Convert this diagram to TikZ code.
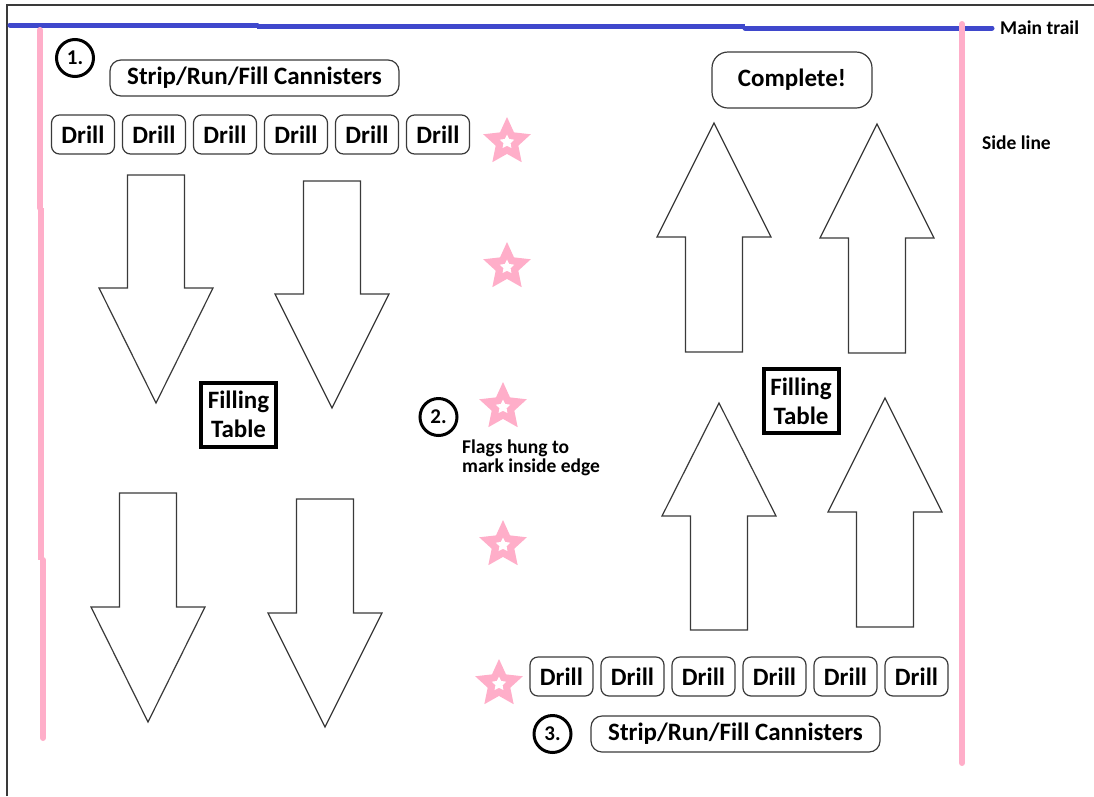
\documentclass[tikz,border=0pt]{standalone}
\usepackage{fontspec}
\setmainfont{Carlito}
\usepackage{xcolor}
\usetikzlibrary{shapes.geometric}
\definecolor{trailblue}{HTML}{3F48CC}
\definecolor{rose}{HTML}{FFAEC9}
\definecolor{edgegray}{HTML}{3A3A3A}

\begin{document}
\begin{tikzpicture}[x=1pt,y=-1pt,
  lbl/.style={font=\fontsize{25}{29}\selectfont\bfseries},
  small/.style={font=\fontsize{19.5}{18.5}\selectfont\bfseries},
  drillbox/.style={lbl,draw=edgegray,line width=1.2pt,rounded corners=8pt,minimum width=63pt,minimum height=39pt,inner sep=0pt},
  taskbox/.style={lbl,draw=edgegray,line width=1.2pt,rounded corners=11pt,minimum width=289pt,minimum height=36pt,inner sep=0pt},
  tablebox/.style={lbl,draw=black,line width=4pt,align=center,minimum width=75pt,minimum height=64pt,inner sep=0pt},
  numcircle/.style={circle,draw=black,line width=3pt,minimum size=37pt,inner sep=0pt,font=\fontsize{21}{21}\selectfont\bfseries},
  flag/.style={star,star points=5,star point ratio=2.1,fill=rose,minimum size=50pt,inner sep=0pt},
  flaghole/.style={star,star points=5,star point ratio=2,fill=white,minimum size=15pt,inner sep=0pt},
  flow/.style={draw=edgegray,line width=1.2pt,fill=white}]
  \useasboundingbox (0,0) rectangle (1094,796);
  % window edge
  \draw[edgegray,line width=1.2pt] (7,796)--(7,5)--(1094,5);
  % main trail and side lines
  \node[small,anchor=west,inner sep=0pt] (trail) at (1000,28) {Main trail};
  \coordinate (trailend) at ([xshift=-8pt]trail.west);
  \draw[trailblue,line width=5pt,line cap=round] (10,25)--(257,25);
  \draw[trailblue,line width=5pt] (257,26.5)--(745,26.5);
  \draw[trailblue,line width=5pt,line cap=round] (745,28)--(trailend);
  \draw[rose,line width=6pt,line cap=round] (40,30)--(40,208);
  \draw[rose,line width=6pt] (41,208)--(41,560);
  \draw[rose,line width=6pt,line cap=round] (43,560)--(43,738);
  \draw[rose,line width=6pt,line cap=round] (962,24)--(962,763);
  \node[small,anchor=west,inner sep=0pt] (side) at (982,143) {Side line};
  % flow arrows: centre x / tail / shoulder / tip
  \foreach \cx/\tl/\sh/\tp in {156/175/288/403, 332/181/294/408, 148/493/607/722, 325/499/613/727,
                               714/352/237/123, 877/353/238/124, 719/630/516/403, 885/627/512/398}
    \draw[flow] (\cx-28.5,\tl)--(\cx-28.5,\sh)--(\cx-57,\sh)--(\cx,\tp)--(\cx+57,\sh)--(\cx+28.5,\sh)--(\cx+28.5,\tl)--cycle;
  % step 1
  \node[numcircle] (num1) at (75,58) {1.};
  \node[taskbox] (task1) at (254.5,78) {Strip/Run/Fill Cannisters};
  \foreach \i in {0,...,5}
    \node[drillbox] (topdrill\i) at (83+71*\i,134.5) {Drill};
  \node[tablebox] (table1) at (238.5,414.5) {Filling\\Table};
  % step 2: flags
  \foreach \i/\fx/\fy in {1/507/142, 2/507/267, 3/503/407, 4/503/545, 5/499/684} {
    \node[flag] (flag\i) at (\fx,\fy) {};
    \node[flaghole] at (flag\i.center) {};
  }
  \node[numcircle] (num2) at (438.5,417) {2.};
  \node[small,anchor=west,align=left,inner sep=0pt] (flagnote) at (462,458) {Flags hung to\\mark inside edge};
  % step 3
  \foreach \i in {0,...,5}
    \node[drillbox] (botdrill\i) at (561.5+71*\i,676.5) {Drill};
  \node[numcircle] (num3) at (552.5,734) {3.};
  \node[taskbox] (task3) at (735.5,734) {Strip/Run/Fill Cannisters};
  \node[tablebox] (table2) at (801,401) {Filling\\Table};
  \node[lbl,draw=edgegray,line width=1.2pt,rounded corners=16pt,minimum width=160pt,minimum height=56pt] (done) at (792,80) {Complete!};
\end{tikzpicture}
\end{document}
